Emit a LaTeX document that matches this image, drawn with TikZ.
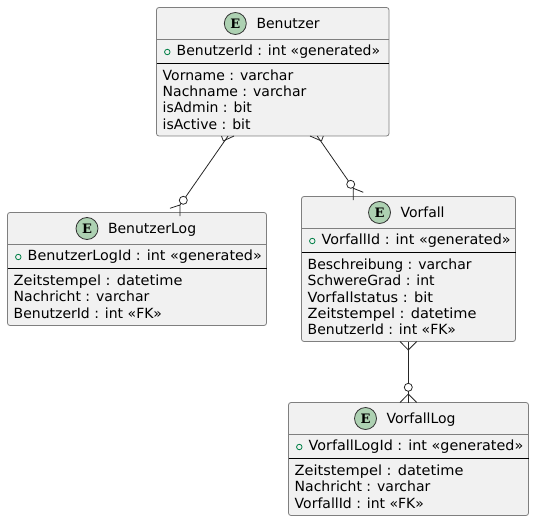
\documentclass[tikz,border=0pt]{standalone}
\usepackage{fontspec}
\setmainfont{DejaVu Sans}
\newfontfamily\iconfont{DejaVu Serif}
\usetikzlibrary{calc}
\definecolor{boxfill}{HTML}{F1F1F1}
\definecolor{boxline}{HTML}{7F7F7F}
\definecolor{iconfill}{HTML}{ADD1B2}
\definecolor{keygreen}{HTML}{038048}
\tikzset{
  entitybox/.style={draw=boxline, fill=boxfill, rectangle, rounded corners=2.5pt, inner sep=0, outer sep=0, line width=0.8pt},
  entityicon/.style={draw=black!80, fill=iconfill, circle, inner sep=0, outer sep=0, minimum size=22pt, line width=0.8pt, font=\iconfont\bfseries\fontsize{13}{13}\selectfont},
  entitytext/.style={anchor=base west, inner sep=0, outer sep=0, font=\fontsize{14}{16}\selectfont},
  keyring/.style={draw=keygreen, circle, inner sep=0, outer sep=0, minimum size=5.5pt, line width=0.8pt},
  optring/.style={draw=black!85, fill=white, circle, inner sep=0, outer sep=0, minimum size=8pt, line width=0.8pt},
  relline/.style={draw=black!85, line width=0.8pt},
}
\newcommand{\wider}[1]{\scalebox{1.04}[1]{#1}}
\newcommand{\widekey}[1]{\scalebox{1.025}[1]{#1}}
% name, left, top, width, height, icon x, title x, title, key, rows
\newcommand{\entity}[9]{%
  \node[entitybox, minimum width=#4, minimum height=#5, anchor=north west] (#1) at (#2, #3) {};
  \entityrest{#1}{#6}{#7}{#8}{#9}%
}
\newcommand{\entityrest}[5]{%
  \node[entityicon] (#1Icon) at ($(#1.north west)+(#2,16)$) {E};
  \node[entitytext] (#1Title) at ($(#1.north west)+(#3,21)$) {#4};
  \draw[boxline, line width=0.8pt] ($(#1.north west)+(0,32)$) -- ($(#1.north east)+(0,32)$);
  \draw[black, line width=0.8pt] ($(#1.north west)+(0,55.5)$) -- ($(#1.north east)+(0,55.5)$);
  \node[keyring] (#1Ring) at ($(#1.north west)+(10.8,44.5)$) {};
  \node[entitytext] (#1Key) at ($(#1.north west)+(20.2,48.2)$) {#5};
}
\newcommand{\rows}[2]{%
  \foreach \row [count=\i from 0] in {#2} {
    \node[entitytext] (#1Row\i) at ($(#1.north west)+(6.2,72.9+16.3*\i)$) {\row};
  }
}
\begin{document}
\begin{tikzpicture}[x=1pt, y=-1pt]
\useasboundingbox (0, 0) rectangle (534, 521);
\entity{benutzer}{156.5}{7.5}{232.5}{128.5}{78.8}{100}{Benutzer}{BenutzerId : int «generated»}
\rows{benutzer}{Vorname : varchar, Nachname : varchar, isAdmin : bit, isActive : bit}
\entity{benutzerLog}{7.5}{212.5}{259}{113}{79.5}{100.5}{BenutzerLog}{\widekey{BenutzerLogId : int «generated»}}
\rows{benutzerLog}{\wider{Zeitstempel : datetime}, Nachricht : varchar, BenutzerId : int «FK»}
\entity{vorfall}{301.5}{196.5}{214}{145}{78}{99}{Vorfall}{\widekey{VorfallId : int «generated»}}
\rows{vorfall}{Beschreibung : varchar, SchwereGrad : int, \wider{Vorfallstatus : bit}, \wider{Zeitstempel : datetime}, BenutzerId : int «FK»}
\entity{vorfallLog}{288.5}{402.5}{240}{113}{77}{98}{VorfallLog}{\widekey{VorfallLogId : int «generated»}}
\rows{vorfallLog}{\wider{Zeitstempel : datetime}, Nachricht : varchar, VorfallId : int «FK»}
% rings
\node[optring] (ringLog) at (183.3, 200.3) {};
\node[optring] (ringVorfall) at (350.7, 184.3) {};
\node[optring] (ringVorfallLog) at (408.3, 387.3) {};
% feet
\coordinate (apexBenutzerA) at (223.3, 141);
\coordinate (apexBenutzerB) at (321.5, 141);
\coordinate (apexVorfall) at (408.3, 350);
\coordinate (apexLog) at (180, 205);
\coordinate (apexVorfallIn) at (353.3, 188.3);
\coordinate (apexVorfallLog) at (408.3, 394);
\begin{scope}[relline]
  \draw (benutzer) -- (ringLog);
  \draw (benutzer) -- (ringVorfall);
  \draw (vorfall.south -| ringVorfallLog) -- (ringVorfallLog);
  \draw (apexBenutzerA) -- (221.5, 136) (apexBenutzerA) -- (234, 136);
  \draw (apexBenutzerB) -- (310, 136) (apexBenutzerB) -- (323.3, 136);
  \draw (apexVorfall) -- (400, 341.5) (apexVorfall) -- (416.7, 341.5);
  \draw (ringLog) -- (apexLog) (apexLog) -- (170, 208.3) (apexLog) -- (180, 216);
  \draw (ringVorfall) -- (apexVorfallIn) (apexVorfallIn) -- (363.3, 192.3) (apexVorfallIn) -- (353.3, 200);
  \draw (ringVorfallLog) -- (vorfallLog.north -| ringVorfallLog);
  \draw (apexVorfallLog) -- (400, 402.5) (apexVorfallLog) -- (416.7, 402.5);
\end{scope}
\end{tikzpicture}
\end{document}
